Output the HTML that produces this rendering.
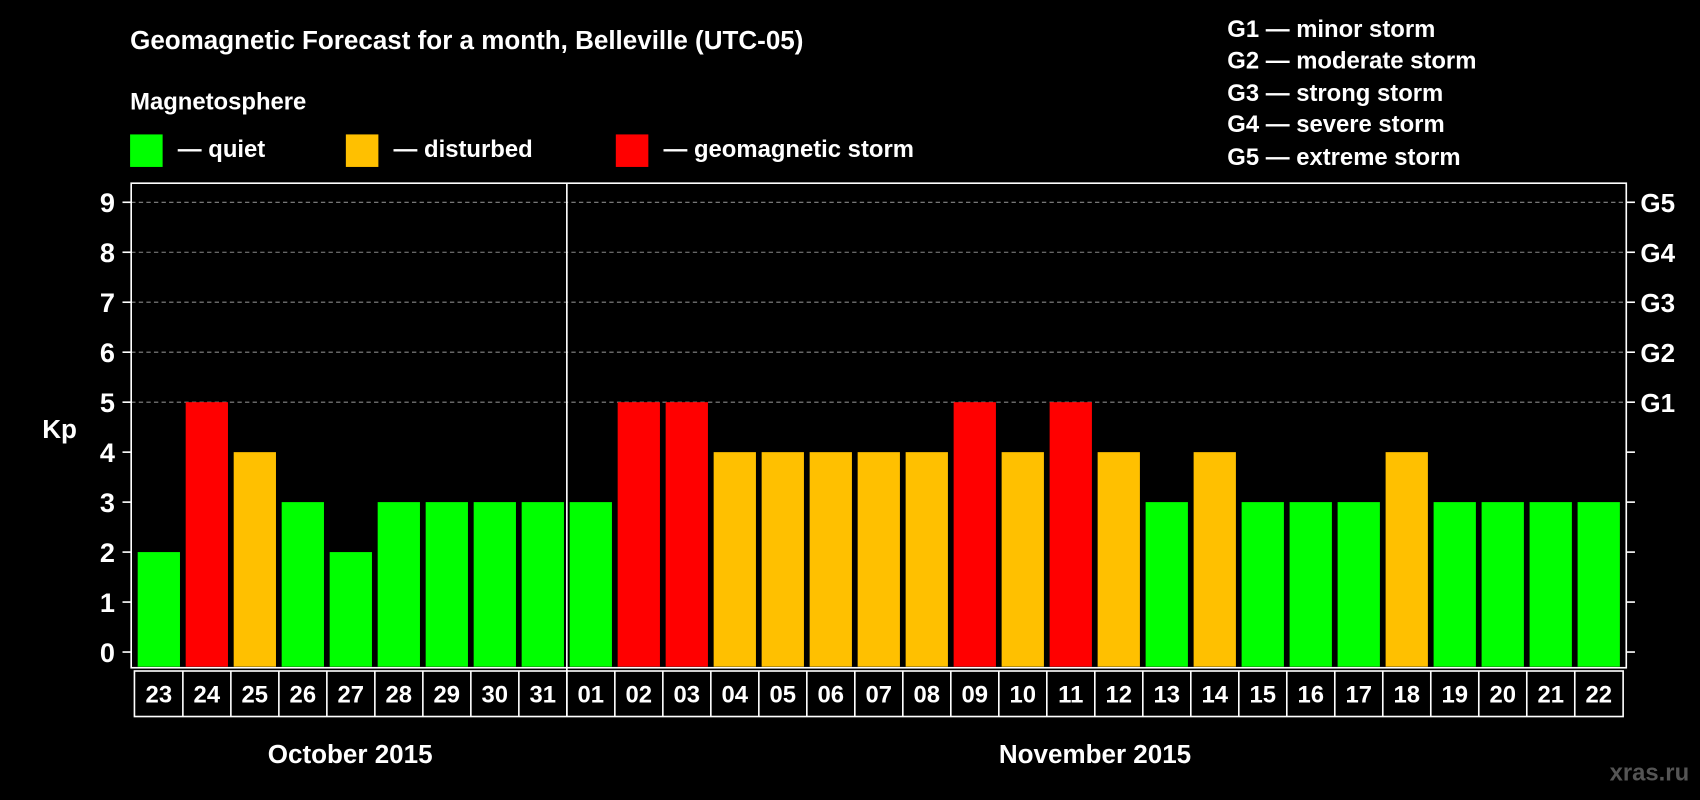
<!DOCTYPE html>
<html><head><meta charset="utf-8"><style>
html,body{margin:0;padding:0;background:#000;}
svg{display:block;font-family:"Liberation Sans",sans-serif;font-weight:bold;}
</style></head><body>
<svg id="chart" width="1700" height="800" viewBox="0 0 1568 738" preserveAspectRatio="none" xmlns="http://www.w3.org/2000/svg">
<rect x="0" y="0" width="1568" height="738" fill="#000"/>
<text x="120" y="45" fill="#fff" font-size="24">Geomagnetic Forecast for a month, Belleville (UTC-05)</text>
<text x="120" y="101" fill="#fff" font-size="22">Magnetosphere</text>
<g><rect x="120" y="124" width="30" height="30" fill="#00ff00"/><text x="164" y="145" fill="#fff" font-size="22">— quiet</text></g>
<g><rect x="319" y="124" width="30" height="30" fill="#ffc000"/><text x="363" y="145" fill="#fff" font-size="22">— disturbed</text></g>
<g><rect x="568" y="124" width="30" height="30" fill="#ff0000"/><text x="612" y="145" fill="#fff" font-size="22">— geomagnetic storm</text></g>
<g fill="#fff" font-size="22">
<text x="1132" y="34">G1 — minor storm</text>
<text x="1132" y="63">G2 — moderate storm</text>
<text x="1132" y="93">G3 — strong storm</text>
<text x="1132" y="122">G4 — severe storm</text>
<text x="1132" y="152">G5 — extreme storm</text>
</g>
<text x="39" y="404" fill="#fff" font-size="24">Kp</text>
<g id="grid"></g>
<g id="bars"></g>
<g id="axes"></g>
<text x="323" y="704" text-anchor="middle" fill="#fff" font-size="24">October 2015</text>
<text x="1010" y="704" text-anchor="middle" fill="#fff" font-size="24">November 2015</text>
<text x="1558" y="720" text-anchor="end" fill="#555" font-size="22">xras.ru</text>
</svg>
<script>
const days = ["23","24","25","26","27","28","29","30","31","01","02","03","04","05","06","07","08","09","10","11","12","13","14","15","16","17","18","19","20","21","22"];
const kp = [2,5,4,3,2,3,3,3,3,3,5,5,4,4,4,4,4,5,4,5,4,3,4,3,3,3,4,3,3,3,3];
const yTicks = [0,1,2,3,4,5,6,7,8,9];
const gLabels = ["G1","G2","G3","G4","G5"];
const NS="http://www.w3.org/2000/svg";
const L=121,R=1500,T=169,B=616,y0=601.5,unit=46.1,first=127,pitch=44.27,bw=39;
const ys=v=>y0-v*unit;
const xs=i=>first+i*pitch;
function mk(tag,at,parent){const e=document.createElementNS(NS,tag);for(const k in at)e.setAttribute(k,at[k]);parent.appendChild(e);return e;}
const grid=document.getElementById('grid'),bars=document.getElementById('bars'),axes=document.getElementById('axes');
yTicks.forEach(v=>{
  if(v>=5){const gl=mk('line',{x1:L,x2:R,y1:ys(v),y2:ys(v),stroke:'#888','stroke-dasharray':'4,3','stroke-width':1},grid);
  
  }
  mk('line',{x1:L-8,x2:L,y1:ys(v),y2:ys(v),stroke:'#fff','stroke-width':1.5},axes);
  mk('line',{x1:R,x2:R+8,y1:ys(v),y2:ys(v),stroke:'#fff','stroke-width':1.5},axes);
  const t=mk('text',{x:L-15,y:ys(v)+9,'text-anchor':'end',fill:'#fff','font-size':25},axes);
  t.textContent=v;
  
  
});
gLabels.forEach((g,i)=>{
  const t=mk('text',{x:R+13,y:ys(5+i)+9,fill:'#fff','font-size':24},axes);
  t.textContent=g;
  
  
});
kp.forEach((v,i)=>{
  const c=v>=5?'#ff0000':(v>=4?'#ffc000':'#00ff00');
  const r=mk('rect',{x:xs(i),y:ys(v),width:bw,height:B-1-ys(v),fill:c},bars);
  
  
});
mk('rect',{x:L,y:T,width:R-L,height:B-T,fill:'none',stroke:'#fff','stroke-width':1.5},axes);
const sep=first+9*pitch-2.6;
mk('line',{x1:sep,x2:sep,y1:T,y2:661,stroke:'#fff','stroke-width':1.5},axes);
const bl=first-3,br=xs(30)+bw+3;
mk('rect',{x:bl,y:619,width:br-bl,height:42,fill:'none',stroke:'#fff','stroke-width':1.5},axes);
days.forEach((d,i)=>{
  if(i>0){const bx=xs(i)-2.6;mk('line',{x1:bx,x2:bx,y1:619,y2:661,stroke:'#fff','stroke-width':1.5},axes);}
  const t=mk('text',{x:xs(i)+bw/2,y:648,'text-anchor':'middle',fill:'#fff','font-size':22},axes);
  t.textContent=d;
  
  
});
</script>
</body></html>
